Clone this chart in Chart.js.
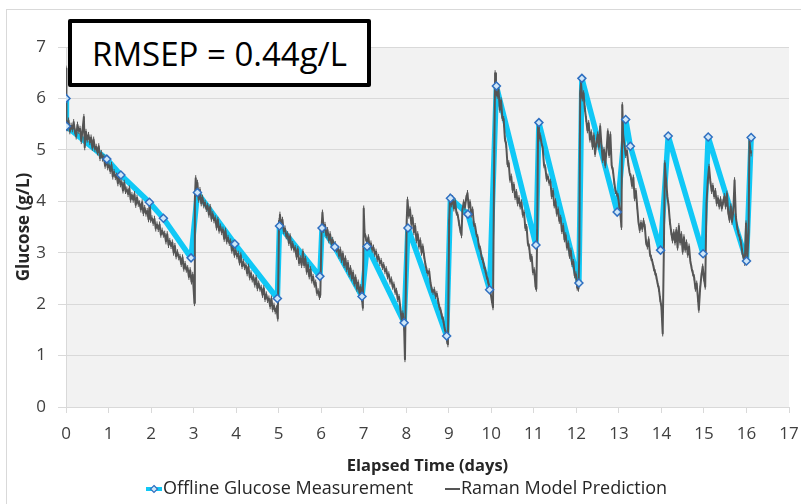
<!DOCTYPE html>
<html>
<head>
<meta charset="utf-8">
<title>Glucose</title>
<script src="https://cdn.jsdelivr.net/npm/chart.js@4.4.1/dist/chart.umd.min.js"></script>
<style>
  html, body { margin: 0; padding: 0; background: #fff; }
  #wrap { position: relative; width: 801px; height: 504px; overflow: hidden; }
  #frame { position: absolute; left: 6px; top: 9px; width: 900px; height: 600px; border: 1px solid #d9d9d9; }
  #chart { position: absolute; left: 0; top: 0; }
  #rmsep {
    position: absolute; left: 68px; top: 19px; width: 295px; height: 60px;
    border: 4px solid #000; border-radius: 2px; background: #fff;
    font: 33px "Open Sans", sans-serif; color: #000;
    display: flex; align-items: center; justify-content: center;
  }
</style>
</head>
<body>
<div id="wrap">
  <div id="frame"></div>
  <canvas id="chart" width="801" height="504"></canvas>
  <div id="rmsep">RMSEP = 0.44g/L</div>
</div>
<script>
// offline samples (days, g/L)
const offlineDays = [0, 0.01, 0.96, 1.29, 1.96, 2.29, 2.94, 3.09, 3.97, 4.97, 5.02, 5.97, 6.02, 6.32, 6.96, 7.08,
  7.95, 8.04, 8.95, 9.04, 9.45, 9.96, 10.12, 11.05, 11.12, 12.06, 12.13, 12.96, 13.16, 13.27, 13.98, 14.16,
  14.98, 15.10, 16.00, 16.11];
const offlineGlucose = [6.00, 5.46, 4.82, 4.51, 3.98, 3.67, 2.90, 4.17, 3.17, 2.11, 3.52, 2.54, 3.48, 3.11, 2.15, 3.12,
  1.64, 3.48, 1.38, 4.06, 3.75, 2.28, 6.24, 3.15, 5.53, 2.41, 6.39, 3.79, 5.59, 5.07, 3.05, 5.27,
  2.98, 5.25, 2.84, 5.24];

// raman model prediction trace (days, g/L)
const ramanDays = [
  0.00, 0.01, 0.03, 0.06, 0.09, 0.12, 0.15, 0.18, 0.21, 0.24, 0.27, 0.30, 0.33, 0.36, 0.39, 0.42, 0.44, 0.47, 0.50,
  0.53, 0.56, 0.59, 0.62, 0.65, 0.68, 0.71, 0.74, 0.77, 0.80, 0.83, 0.86, 0.89, 0.92, 0.95, 0.98, 1.01, 1.04, 1.07,
  1.10, 1.13, 1.16, 1.19, 1.22, 1.25, 1.28, 1.31, 1.34, 1.37, 1.40, 1.43, 1.46, 1.49, 1.52, 1.55, 1.58, 1.61, 1.64,
  1.67, 1.70, 1.73, 1.76, 1.79, 1.82, 1.85, 1.88, 1.91, 1.94, 1.97, 1.99, 2.02, 2.05, 2.08, 2.11, 2.14, 2.17, 2.20,
  2.23, 2.26, 2.29, 2.32, 2.35, 2.38, 2.41, 2.44, 2.47, 2.50, 2.53, 2.56, 2.59, 2.62, 2.65, 2.68, 2.71, 2.74, 2.77,
  2.80, 2.83, 2.86, 2.89, 2.92, 2.95, 2.98, 3.00, 3.02,
  3.03, 3.05, 3.07, 3.09, 3.12, 3.15, 3.18, 3.21, 3.24, 3.27, 3.30, 3.33, 3.36, 3.39, 3.42, 3.45, 3.48, 3.51, 3.54,
  3.57, 3.60, 3.63, 3.66, 3.69, 3.72, 3.75, 3.78, 3.81, 3.84, 3.87, 3.90, 3.93, 3.96, 3.99, 4.02, 4.05, 4.08, 4.11,
  4.14, 4.17, 4.20, 4.23, 4.26, 4.29, 4.32, 4.35, 4.38, 4.41, 4.44, 4.47, 4.50, 4.53, 4.56, 4.59, 4.62, 4.65, 4.68,
  4.71, 4.74, 4.77, 4.80, 4.83, 4.86, 4.89, 4.92, 4.95, 4.98,
  5.01, 5.03, 5.06, 5.09, 5.12, 5.15, 5.18, 5.21, 5.24, 5.27, 5.30, 5.33, 5.36, 5.39, 5.42, 5.45, 5.48, 5.51, 5.54,
  5.57, 5.60, 5.63, 5.66, 5.69, 5.72, 5.75, 5.78, 5.81, 5.84, 5.87, 5.90, 5.93, 5.96, 5.98,
  6.01, 6.03, 6.06, 6.09, 6.12, 6.15, 6.18, 6.21, 6.24, 6.27, 6.30, 6.33, 6.36, 6.39, 6.42, 6.45, 6.48, 6.51, 6.54,
  6.57, 6.60, 6.63, 6.66, 6.69, 6.72, 6.75, 6.78, 6.81, 6.84, 6.87, 6.90, 6.93, 6.96, 6.98,
  7.00, 7.02, 7.05, 7.08, 7.11, 7.14, 7.17, 7.20, 7.23, 7.26, 7.29, 7.32, 7.35, 7.38, 7.41, 7.44, 7.47, 7.50, 7.53,
  7.56, 7.59, 7.62, 7.65, 7.68, 7.71, 7.74, 7.77, 7.80, 7.83, 7.86, 7.89, 7.92, 7.95, 7.97,
  8.01, 8.03, 8.06, 8.09, 8.12, 8.15, 8.18, 8.21, 8.24, 8.27, 8.30, 8.33, 8.36, 8.39, 8.42, 8.45, 8.48, 8.51, 8.54,
  8.57, 8.60, 8.63, 8.66, 8.69, 8.72, 8.75, 8.78, 8.81, 8.84, 8.87, 8.90, 8.93, 8.96, 8.98,
  9.01, 9.03, 9.06, 9.09, 9.12, 9.15, 9.18, 9.21, 9.24, 9.27, 9.30, 9.32, 9.35, 9.38, 9.41, 9.44, 9.47, 9.50, 9.53,
  9.56, 9.59, 9.62, 9.65, 9.68, 9.71, 9.74, 9.77, 9.80, 9.83, 9.86, 9.89, 9.92, 9.95, 9.98, 10.01, 10.04,
  10.07, 10.09, 10.11, 10.14, 10.17, 10.20, 10.23, 10.26, 10.29, 10.32, 10.35, 10.38, 10.41, 10.44, 10.47, 10.50,
  10.53, 10.56, 10.59, 10.62, 10.65, 10.68, 10.71, 10.74, 10.77, 10.80, 10.83, 10.86, 10.89, 10.92, 10.95, 10.98,
  11.01, 11.04, 11.06,
  11.08, 11.10, 11.12, 11.15, 11.18, 11.21, 11.24, 11.27, 11.30, 11.33, 11.36, 11.39, 11.42, 11.45, 11.48, 11.51,
  11.54, 11.57, 11.60, 11.63, 11.66, 11.69, 11.72, 11.75, 11.78, 11.81, 11.84, 11.87, 11.90, 11.93, 11.96, 11.99,
  12.02, 12.05,
  12.07, 12.09, 12.11, 12.14, 12.17, 12.20, 12.23, 12.26, 12.29, 12.32, 12.35, 12.38, 12.41, 12.44, 12.47, 12.50,
  12.53, 12.56, 12.59, 12.62, 12.65, 12.68, 12.71, 12.74, 12.77, 12.80, 12.83, 12.86, 12.89, 12.92, 12.95, 12.98,
  13.01, 13.04, 13.06,
  13.08, 13.10, 13.13, 13.16, 13.19, 13.22, 13.25, 13.28, 13.31, 13.34, 13.37, 13.40, 13.43, 13.46, 13.49, 13.52,
  13.55, 13.58, 13.61, 13.64, 13.67, 13.70, 13.73, 13.76, 13.79, 13.82, 13.85, 13.88, 13.91, 13.94, 13.97, 14.00,
  14.03,
  14.06, 14.08, 14.11, 14.14, 14.17, 14.20, 14.23, 14.26, 14.29, 14.32, 14.35, 14.38, 14.41, 14.44, 14.47, 14.50,
  14.53, 14.56, 14.59, 14.62, 14.65, 14.68, 14.71, 14.74, 14.77, 14.80, 14.83, 14.86, 14.88, 14.91, 14.94, 14.97,
  15.00, 15.03,
  15.06, 15.09, 15.12, 15.15, 15.18, 15.21, 15.24, 15.27, 15.30, 15.33, 15.36, 15.39, 15.42, 15.45, 15.48, 15.51,
  15.54, 15.57, 15.60, 15.63, 15.66, 15.69, 15.72, 15.75, 15.78, 15.81, 15.84, 15.87, 15.90, 15.93, 15.96, 15.99,
  16.02, 16.05, 16.07, 16.09, 16.11
];
const ramanGlucose = [
  6.58, 5.50, 5.42, 5.57, 5.36, 5.47, 5.40, 5.54, 5.36, 5.26, 5.49, 5.37, 5.41, 5.17, 5.40, 5.64, 5.05, 5.35, 5.20,
  5.29, 5.15, 5.24, 5.04, 5.20, 5.02, 5.06, 4.95, 5.07, 4.84, 4.94, 4.83, 4.86, 4.69, 4.84, 4.66, 4.70, 4.59, 4.71,
  4.48, 4.57, 4.47, 4.50, 4.35, 4.49, 4.33, 4.37, 4.21, 4.36, 4.20, 4.23, 4.14, 4.25, 4.03, 4.12, 4.03, 4.14, 3.93,
  4.07, 3.95, 3.96, 3.84, 3.98, 3.77, 3.87, 3.76, 3.81, 3.65, 4.00, 3.64, 3.67, 3.58, 3.66, 3.47, 3.55, 3.46, 3.55,
  3.35, 3.43, 3.35, 3.37, 3.22, 3.36, 3.15, 3.23, 3.13, 3.20, 3.00, 3.13, 2.93, 3.01, 2.91, 2.92, 2.78, 2.91, 2.69,
  2.78, 2.67, 2.70, 2.53, 2.66, 2.44, 2.57, 2.30, 2.02,
  4.05, 4.45, 4.16, 4.36, 4.03, 4.22, 3.96, 4.07, 3.92, 3.97, 3.85, 3.91, 3.74, 3.89, 3.66, 3.75, 3.63, 3.67, 3.49,
  3.64, 3.43, 3.51, 3.40, 3.45, 3.27, 3.43, 3.22, 3.29, 3.19, 3.22, 3.04, 3.19, 2.96, 3.04, 2.93, 2.98, 2.81, 2.95,
  2.74, 2.82, 2.72, 2.75, 2.60, 2.73, 2.52, 2.60, 2.48, 2.52, 2.38, 2.51, 2.31, 2.40, 2.30, 2.32, 2.18, 2.31, 2.10,
  2.19, 2.08, 2.11, 1.96, 2.11, 1.90, 1.97, 1.86, 1.92, 1.72,
  3.62, 3.74, 3.54, 3.64, 3.42, 3.47, 3.32, 3.36, 3.19, 3.32, 3.10, 3.17, 3.06, 3.09, 2.92, 3.07, 2.80, 2.89, 2.76,
  3.02, 2.76, 2.88, 2.63, 2.76, 2.54, 2.68, 2.46, 2.53, 2.38, 2.42, 2.22, 2.25, 2.14, 2.18,
  3.50, 3.78, 3.44, 3.54, 3.34, 3.44, 3.24, 3.36, 3.18, 3.25, 3.14, 3.17, 3.06, 3.09, 2.94, 3.06, 2.86, 2.98, 2.76,
  2.89, 2.68, 2.80, 2.58, 2.70, 2.50, 2.61, 2.40, 2.52, 2.30, 2.42, 2.22, 2.33, 2.10, 1.93,
  3.86, 3.40, 3.28, 3.20, 3.30, 3.12, 3.18, 3.06, 3.10, 2.98, 3.02, 2.88, 2.92, 2.80, 2.84, 2.72, 2.76, 2.64, 2.68,
  2.54, 2.58, 2.44, 2.48, 2.34, 2.38, 2.24, 2.26, 2.10, 2.14, 1.94, 1.70, 1.82, 1.55, 0.93,
  3.60, 4.03, 3.72, 3.84, 3.56, 3.68, 3.40, 3.52, 3.24, 3.36, 3.12, 3.24, 3.00, 3.12, 2.94, 2.78, 2.66, 2.60, 2.64,
  2.42, 2.28, 2.24, 2.28, 2.16, 2.20, 2.06, 1.94, 1.88, 1.76, 1.70, 1.54, 1.44, 1.28, 1.22,
  3.60, 4.09, 3.94, 4.06, 3.86, 4.00, 3.78, 3.74, 3.58, 3.44, 3.34, 3.82, 3.98, 3.88, 4.06, 4.16, 3.88, 3.98, 3.74,
  3.84, 3.56, 3.52, 3.36, 3.30, 3.12, 3.08, 2.92, 2.86, 2.74, 2.66, 2.54, 2.46, 2.34, 2.24, 2.08, 1.94,
  5.00, 6.49, 6.12, 6.05, 6.18, 5.78, 5.96, 5.62, 5.60, 5.22, 5.10, 4.72, 4.74, 4.42, 4.48, 4.22,
  4.32, 4.08, 4.18, 3.96, 4.06, 3.90, 3.98, 3.74, 3.78, 3.48, 3.50, 3.18, 3.12, 2.88, 2.92, 2.62,
  2.66, 2.34, 2.30,
  3.40, 5.45, 5.22, 5.28, 5.14, 5.02, 4.70, 4.66, 4.44, 4.48, 4.36, 4.38, 4.10, 4.20, 3.92, 4.00,
  3.76, 3.84, 3.62, 3.68, 3.42, 3.52, 3.26, 3.34, 3.10, 3.18, 2.94, 3.04, 2.78, 2.82, 2.56, 2.58,
  2.32, 2.30,
  3.00, 6.10, 6.30, 6.00, 6.10, 5.80, 5.60, 5.38, 5.52, 5.20, 5.34, 5.06, 5.28, 4.92, 5.12, 5.30,
  5.06, 5.46, 5.10, 4.80, 5.00, 4.70, 5.00, 5.36, 4.90, 5.30, 4.70, 4.60, 4.38, 4.20, 4.15, 4.10,
  3.90, 3.70, 3.50,
  5.87, 5.30, 5.10, 4.90, 4.98, 4.74, 4.56, 4.48, 4.30, 4.46, 4.06, 4.20, 3.90, 3.60, 3.44, 3.58,
  3.46, 3.62, 3.50, 3.20, 3.12, 3.26, 2.98, 2.90, 2.82, 2.70, 2.62, 2.54, 2.40, 2.30, 2.10, 1.95,
  1.43,
  3.20, 4.74, 4.40, 4.10, 3.90, 3.60, 3.40, 3.24, 3.40, 3.20, 3.44, 3.10, 3.52, 3.20, 3.36, 3.02,
  3.30, 3.06, 3.20, 2.96, 3.12, 2.84, 2.70, 2.60, 2.52, 2.30, 2.40, 2.10, 1.89, 2.30, 2.55, 2.73,
  2.50, 2.34,
  3.96, 4.40, 4.67, 4.40, 4.20, 4.30, 4.10, 4.20, 3.96, 4.06, 3.90, 4.04, 3.86, 3.98, 4.10, 3.90,
  4.15, 3.80, 3.64, 3.90, 3.60, 3.80, 4.41, 3.70, 3.50, 3.38, 3.30, 3.20, 3.02, 2.90, 2.80, 3.57,
  2.86, 3.40, 5.19, 5.00, 4.93
];

const xTicks = [0, 1, 2, 3, 4, 5, 6, 7, 8, 9, 10, 11, 12, 13, 14, 15, 16, 17];
const yTicks = [0, 1, 2, 3, 4, 5, 6, 7];

const FONT = '"Open Sans", sans-serif';
const CYAN = '#10c8f6';
const GRAY = '#555555';

const toPoints = (xs, ys) => xs.map((x, i) => ({ x: x, y: ys[i] }));

// gray plot area behind the grid
const plotFill = {
  id: 'plotFill',
  beforeDraw(chart) {
    const { ctx, chartArea: a } = chart;
    ctx.save();
    ctx.fillStyle = '#f2f2f2';
    ctx.fillRect(a.left, a.top, a.right - a.left, a.bottom - a.top);
    ctx.restore();
  }
};

// legend row under the x axis title
const bottomLegend = {
  id: 'bottomLegend',
  afterDraw(chart) {
    const ctx = chart.ctx;
    const y = 489;
    ctx.save();
    ctx.font = '18px ' + FONT;
    ctx.textBaseline = 'middle';

    // offline measurement
    ctx.strokeStyle = CYAN;
    ctx.lineWidth = 4;
    ctx.beginPath();
    ctx.moveTo(146, y);
    ctx.lineTo(162, y);
    ctx.stroke();
    ctx.beginPath();
    ctx.moveTo(154, y - 3.5);
    ctx.lineTo(157.5, y);
    ctx.lineTo(154, y + 3.5);
    ctx.lineTo(150.5, y);
    ctx.closePath();
    ctx.fillStyle = '#cfe6f7';
    ctx.fill();
    ctx.strokeStyle = '#2f6fc1';
    ctx.lineWidth = 1.2;
    ctx.stroke();
    ctx.fillStyle = '#262626';
    ctx.fillText('Offline Glucose Measurement', 163, y);

    // raman prediction
    ctx.strokeStyle = GRAY;
    ctx.lineWidth = 2;
    ctx.beginPath();
    ctx.moveTo(445, y);
    ctx.lineTo(460, y);
    ctx.stroke();
    ctx.fillText('Raman Model Prediction', 461, y);
    ctx.restore();
  }
};

new Chart(document.getElementById('chart'), {
  type: 'line',
  data: {
    datasets: [
      {
        // diamond markers on top
        label: 'Offline Glucose Measurement',
        data: toPoints(offlineDays, offlineGlucose),
        showLine: false,
        pointStyle: 'rectRot',
        pointRadius: 4,
        pointBorderWidth: 1.5,
        pointBorderColor: '#2f6fc1',
        pointBackgroundColor: '#cfe6f7',
        order: 0
      },
      {
        label: 'Raman Model Prediction',
        data: toPoints(ramanDays, ramanGlucose),
        borderColor: GRAY,
        borderWidth: 2,
        borderJoinStyle: 'round',
        pointStyle: 'line',
        rotation: 90,
        pointRadius: 3,
        pointBorderWidth: 1,
        pointBorderColor: GRAY,
        tension: 0,
        order: 1
      },
      {
        label: 'Offline Glucose Measurement line',
        data: toPoints(offlineDays, offlineGlucose),
        borderColor: CYAN,
        borderWidth: 5.5,
        borderJoinStyle: 'round',
        borderCapStyle: 'round',
        pointRadius: 0,
        tension: 0,
        order: 2
      }
    ]
  },
  options: {
    responsive: false,
    animation: false,
    devicePixelRatio: 1,
    layout: { padding: { left: 0, top: 47, right: 12, bottom: 0 } },
    plugins: {
      legend: { display: false },
      tooltip: { enabled: false }
    },
    scales: {
      x: {
        type: 'linear',
        min: 0,
        max: 17,
        afterBuildTicks: s => { s.ticks = xTicks.map(v => ({ value: v })); },
        afterFit: s => { s.height = 97; s.paddingLeft = 0; s.paddingRight = 0; },
        grid: { drawOnChartArea: false, tickLength: 6, color: '#d9d9d9' },
        border: { color: '#d9d9d9' },
        ticks: { font: { family: FONT, size: 17 }, color: '#404040', padding: 11, maxRotation: 0 },
        title: {
          display: true,
          text: 'Elapsed Time (days)',
          font: { family: FONT, size: 16.5, weight: 'bold' },
          color: '#262626',
          padding: { top: 0, bottom: 28 }
        }
      },
      y: {
        min: 0,
        max: 7,
        afterBuildTicks: s => { s.ticks = yTicks.map(v => ({ value: v })); },
        afterFit: s => { s.width = 66; s.paddingTop = 0; s.paddingBottom = 0; },
        grid: { color: '#d9d9d9', tickLength: 8 },
        border: { color: '#d9d9d9' },
        ticks: { font: { family: FONT, size: 17 }, color: '#404040', padding: 12 },
        title: {
          display: true,
          text: 'Glucose (g/L)',
          font: { family: FONT, size: 17, weight: 'bold' },
          color: '#262626',
          padding: { top: 14, bottom: 0 }
        }
      }
    }
  },
  plugins: [plotFill, bottomLegend]
});
</script>
</body>
</html>
